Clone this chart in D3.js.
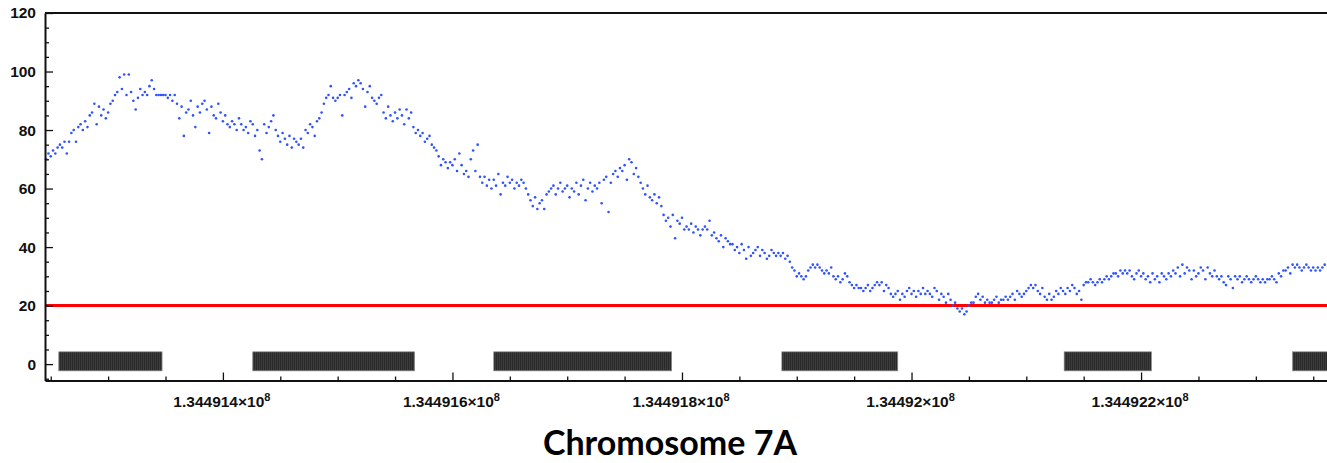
<!DOCTYPE html>
<html><head><meta charset="utf-8">
<script src="https://cdn.jsdelivr.net/npm/d3@7"></script>
<style>html,body{margin:0;padding:0;background:#fff;overflow:hidden}</style>
</head><body><svg id="c" width="1327" height="463"></svg>
<script>
// ---------- data ----------
const startPos = 134491246;   // first sampled position (bp)
const posStep = 2;            // bp between samples
const coverage = [
70,72,71,73,72,74,75,74,76,72,
76,79,80,76,81,82,80,83,81,85,
86,89,82,88,85,87,84,86,89,90,
92,93,98,94,99,92,99,93,90,87,
91,94,92,93,92,95,97,94,92,92,
92,92,92,91,92,90,92,89,84,88,
78,86,87,90,85,81,88,86,89,90,
87,79,88,85,84,89,86,83,85,82,
81,83,82,80,84,82,80,81,79,83,
82,78,80,73,70,82,79,81,83,85,
80,78,76,79,77,75,78,74,77,76,
75,77,74,80,79,82,81,78,83,84,
86,89,91,92,95,91,90,91,92,85,
92,93,94,91,96,95,97,96,94,88,
93,95,91,90,89,91,92,86,84,88,
85,83,86,84,87,85,82,87,84,86,
81,79,80,78,79,76,77,78,75,74,
73,71,68,70,69,67,69,68,70,66,
72,68,65,66,64,70,73,66,75,64,
62,64,61,63,60,63,61,65,58,62,
61,64,62,63,60,62,61,63,62,60,
58,56,54,57,53,55,56,53,58,59,
60,61,58,60,62,59,60,61,57,60,
59,62,58,61,63,56,60,62,59,61,
60,62,55,63,64,52,62,65,66,64,
67,66,68,63,70,69,65,67,64,62,
60,58,61,57,56,58,55,57,54,51,
49,50,47,51,43,49,48,50,46,47,
46,48,45,47,46,44,46,47,46,49,
44,45,43,42,44,40,43,42,41,41,
39,40,38,41,39,36,40,37,38,39,
40,37,39,38,36,37,39,38,37,38,
37,38,36,37,35,33,32,30,31,30,
29,30,32,33,34,33,34,33,32,31,
32,31,33,30,29,30,28,29,31,30,
28,27,26,27,26,26,25,26,27,25,
26,27,28,27,28,25,27,26,24,23,
24,25,22,24,23,25,26,24,25,23,
25,24,26,24,25,24,23,26,25,22,
24,23,21,24,22,20,21,19,18,19,
17,18,20,21,21,23,24,22,23,21,
22,21,21,22,23,21,22,22,23,22,
23,24,22,25,24,23,24,25,26,27,
26,27,25,24,26,23,22,24,22,23,
25,24,26,25,24,26,25,27,26,24,
25,22,27,28,28,29,28,27,28,29,
28,29,30,29,30,31,31,30,32,31,
32,31,32,30,29,31,32,30,31,29,
30,28,31,29,30,28,31,30,29,31,
30,32,31,33,30,34,31,33,32,29,
32,30,31,33,32,29,33,31,30,32,
30,29,30,28,27,30,29,26,30,29,
30,28,29,30,29,28,29,30,29,28,
29,28,29,29,30,29,28,31,30,32,
32,33,31,34,33,34,33,32,33,34,
33,32,33,32,33,32,33,34
];
const blockStarts = [134491257, 134491426, 134491636, 134491887, 134492133, 134492332];
const blockEnds   = [134491347, 134491567, 134491791, 134491988, 134492209, 134492420];
const threshold = 20;
const xTickValues = [134491400, 134491600, 134491800, 134492000, 134492200];
const xTickMantissa = ["1.344914", "1.344916", "1.344918", "1.34492", "1.344922"];
const xTickExponent = "8";
const yTickValues = [0, 20, 40, 60, 80, 100, 120];
const titleText = "Chromosome 7A";

// ---------- layout ----------
const W = 1327, H = 463;
const svg = d3.select("#c");
const x = d3.scaleLinear().domain([134491245, 134492362]).range([45, 1327]);
const y = d3.scaleLinear().domain([-5.6, 120]).range([380.5, 13]);
const X0 = 45, XR = 1327, YB = 380.5, YT = 13;

const points = coverage.map((v, i) => ({pos: startPos + i * posStep, v}));

// blocks (pattern of dense vertical lines)
const defs = svg.append("defs");
const pat = defs.append("pattern").attr("id", "hatch").attr("patternUnits", "userSpaceOnUse")
  .attr("width", 2).attr("height", 10);
pat.append("rect").attr("width", 2).attr("height", 10).attr("fill", "#2a2a2a");
pat.append("rect").attr("x", 1.2).attr("width", 0.6).attr("height", 10).attr("fill", "#474747");

svg.append("g").selectAll("rect").data(blockStarts.map((s, i) => [s, blockEnds[i]]))
  .join("rect")
  .attr("x", d => x(d[0])).attr("width", d => x(d[1]) - x(d[0]))
  .attr("y", y(4.2)).attr("height", y(-2.3) - y(4.2))
  .attr("fill", "url(#hatch)").attr("stroke", "#8a8a8a").attr("stroke-width", 0.7);

// threshold line
svg.append("line").attr("x1", X0).attr("x2", XR).attr("y1", y(threshold)).attr("y2", y(threshold))
  .attr("stroke", "#ff0000").attr("stroke-width", 3);

// points
svg.append("g").selectAll("circle").data(points).join("circle")
  .attr("cx", d => x(d.pos)).attr("cy", d => y(d.v)).attr("r", 1.3)
  .attr("fill", "#2f52ff");

// y axis
const yMinor = d3.range(-5, 121, 5).filter(v => v % 20 !== 0 && v >= -5.6);
const gy = svg.append("g").attr("transform", `translate(${X0},0)`);
gy.call(d3.axisLeft(y).tickValues(yTickValues).tickSizeInner(-8).tickSizeOuter(0).tickPadding(9));
gy.append("g").call(d3.axisLeft(y).tickValues(yMinor).tickSizeInner(-4).tickSizeOuter(0).tickFormat(""))
  .select(".domain").remove();
gy.selectAll("text").attr("font-family", "'Liberation Sans', Arial, sans-serif")
  .attr("font-weight", "bold").attr("font-size", 15.5).attr("fill", "#111");

// x axis
const xMinor = d3.range(134491250, 134492362, 50).filter(v => v % 200 !== 0);
const gx = svg.append("g").attr("transform", `translate(0,${YB})`);
gx.call(d3.axisBottom(x).tickValues(xTickValues).tickSizeInner(-8).tickSizeOuter(0).tickFormat(""));
gx.append("g").call(d3.axisBottom(x).tickValues(xMinor).tickSizeInner(-4).tickSizeOuter(0).tickFormat(""))
  .select(".domain").remove();
gx.selectAll(".tick text").remove();
const lbl = gx.append("g").selectAll("text").data(xTickValues).join("text")
  .attr("x", d => x(d) - 1).attr("y", 26).attr("text-anchor", "middle")
  .attr("font-family", "'Liberation Sans', Arial, sans-serif").attr("font-weight", "bold")
  .attr("font-size", 15.5).attr("fill", "#111");
lbl.append("tspan").text((d, i) => xTickMantissa[i] + "\u00d710");
lbl.append("tspan").attr("font-size", 11).attr("dy", -6).text(xTickExponent);

// frame lines
svg.selectAll(".domain").attr("stroke", "#111").attr("stroke-width", 2);
svg.selectAll(".tick line").attr("stroke", "#111").attr("stroke-width", 1.3);
svg.append("line").attr("x1", X0).attr("x2", XR).attr("y1", YT).attr("y2", YT)
  .attr("stroke", "#111").attr("stroke-width", 2);

// title
svg.append("text").attr("x", 670).attr("y", 455).attr("text-anchor", "middle")
  .attr("font-family", "Lato, 'Open Sans', sans-serif").attr("font-weight", "bold")
  .attr("font-size", 34).attr("fill", "#000").text(titleText);
</script></body></html>
